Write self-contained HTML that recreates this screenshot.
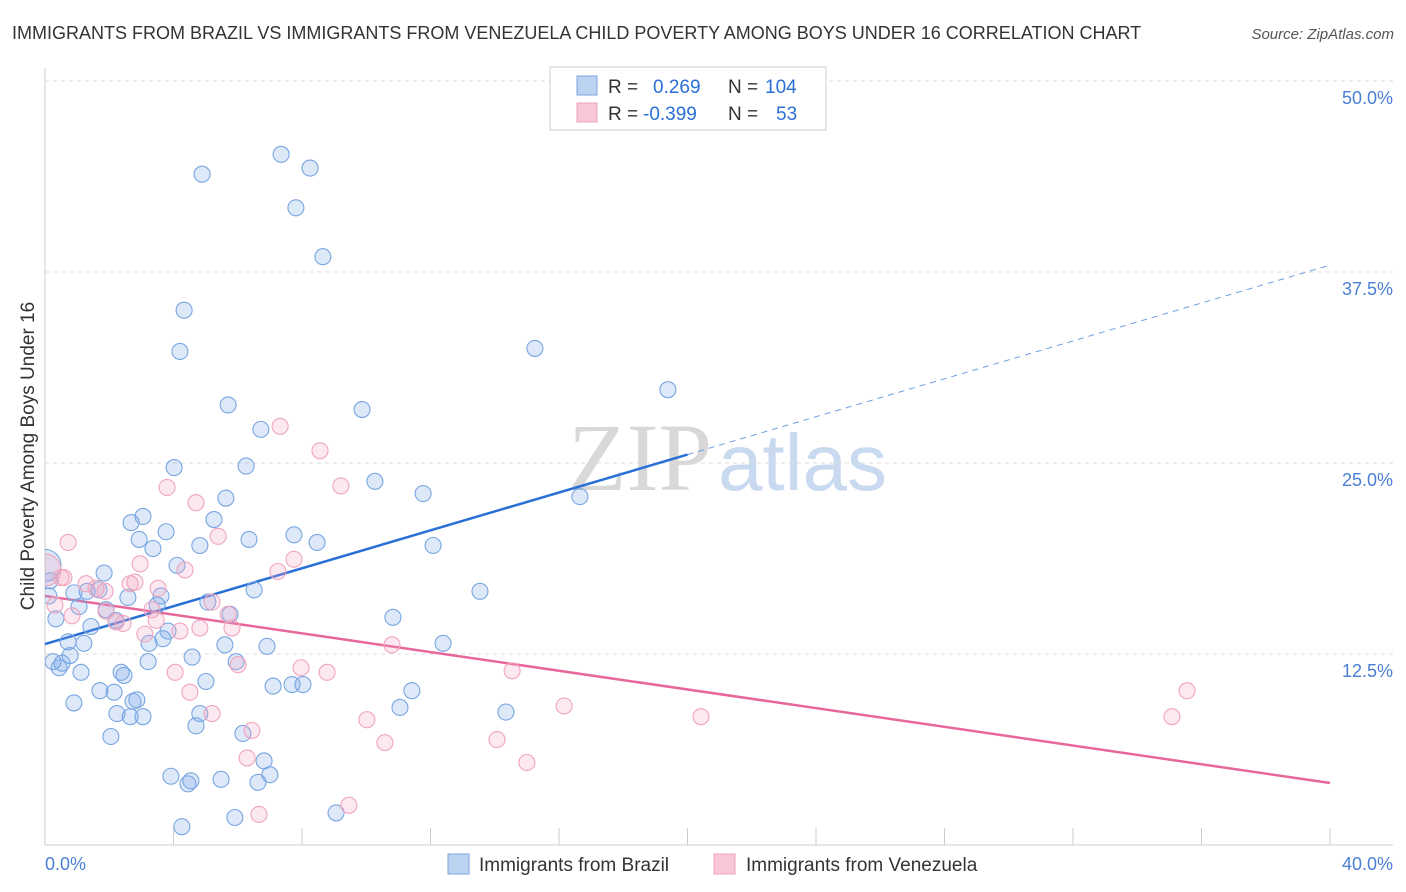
<!DOCTYPE html>
<html><head><meta charset="utf-8">
<style>
body{margin:0;background:#fff;font-family:"Liberation Sans",sans-serif;}
#wrap{position:relative;width:1406px;height:892px;overflow:hidden;}
</style></head>
<body>
<div id="wrap">
<svg id="svg" width="1406" height="892" xmlns="http://www.w3.org/2000/svg">
<defs><clipPath id="plotclip"><rect x="45" y="60" width="1360" height="785"/></clipPath></defs>
<text x="12" y="39" font-size="18" fill="#333">IMMIGRANTS FROM BRAZIL VS IMMIGRANTS FROM VENEZUELA CHILD POVERTY AMONG BOYS UNDER 16 CORRELATION CHART</text>
<text x="1394" y="39" font-size="15" fill="#555" font-style="italic" text-anchor="end">Source: ZipAtlas.com</text>
<text x="712" y="490" font-size="96" fill="#d8d8d8" text-anchor="end" font-family="Liberation Serif">ZIP</text>
<text x="718" y="490" font-size="80" fill="#c8d9f0">atlas</text>
<text transform="translate(34,456) rotate(-90)" font-size="19" fill="#333" text-anchor="middle">Child Poverty Among Boys Under 16</text>
<g id="grid"></g><g id="axes"></g><g id="lines"></g><g id="pts" clip-path="url(#plotclip)"></g>
<g>
<rect x="550" y="67" width="276" height="63" fill="#fff" stroke="#ccc"/>
<rect x="577" y="76" width="20" height="19" fill="#bcd3f2" stroke="#7aa6e0"/>
<rect x="577" y="103" width="20" height="19" fill="#f8c6d6" stroke="#eea1ba"/>
<text x="608" y="93" font-size="19" fill="#333">R = </text><text x="653" y="93" font-size="19" fill="#2a6fd6">0.269</text>
<text x="728" y="93" font-size="19" fill="#333">N = </text><text x="765" y="93" font-size="19" fill="#2a6fd6">104</text>
<text x="608" y="120" font-size="19" fill="#333">R = </text><text x="643" y="120" font-size="19" fill="#2a6fd6">-0.399</text>
<text x="728" y="120" font-size="19" fill="#333">N = </text><text x="776" y="120" font-size="19" fill="#2a6fd6">53</text>
</g>
<g>
<rect x="448" y="854" width="21" height="20" fill="#bcd3f2" stroke="#7aa6e0"/>
<text x="479" y="871" font-size="19" fill="#333">Immigrants from Brazil</text>
<rect x="714" y="854" width="21" height="20" fill="#f8c6d6" stroke="#eea1ba"/>
<text x="746" y="871" font-size="19" fill="#333">Immigrants from Venezuela</text>
</g>
</svg>
</div>
<script>
const yTicks=[12.5,25,37.5,50];
const yTickLabels=["12.5%","25.0%","37.5%","50.0%"];
const xTickVals=[0,4,8,12,16,20,24,28,32,36,40];
const xEndLabels=["0.0%","40.0%"];
const brazilX=[7.35,8.25,4.89,7.81,8.65,4.33,4.20,15.25,19.39,5.70,9.87,6.72,4.02,6.26,10.27,5.63,11.77,16.65,3.05,2.68,5.26,3.77,2.93,3.36,4.82,6.35,7.75,8.47,12.08,4.11,1.84,13.54,6.51,3.61,3.49,5.07,5.76,2.58,1.31,1.68,0.90,0.12,1.06,1.90,2.21,10.83,0.34,1.43,0.72,1.21,3.83,3.67,3.24,5.60,6.91,12.39,0.25,0.53,0.78,0.44,4.58,3.21,5.95,2.37,2.46,1.12,5.01,7.10,7.69,8.03,11.42,1.71,2.15,2.86,2.74,0.90,2.24,3.05,2.65,4.82,11.05,14.35,2.05,4.70,6.16,6.82,3.92,4.54,4.45,5.48,6.63,7.00,4.26,5.91,9.06,0,0.16];
const brazilY=[45.2,44.3,43.9,41.7,38.5,35.0,32.3,32.5,29.8,28.8,28.5,27.2,24.7,24.8,23.8,22.7,23.0,22.8,21.5,21.1,21.3,20.5,20.0,19.4,19.6,20.0,20.3,19.8,19.6,18.3,17.8,16.6,16.7,16.3,15.7,15.9,15.1,16.2,16.6,16.7,16.5,16.3,15.6,15.4,14.7,14.9,14.8,14.3,13.3,13.2,14.0,13.5,13.2,13.1,13.0,13.2,12.0,11.9,12.4,11.6,12.3,12.0,12.0,11.3,11.1,11.3,10.7,10.4,10.5,10.5,10.1,10.1,10.0,9.5,9.4,9.3,8.6,8.4,8.4,8.6,9.0,8.7,7.1,7.8,7.3,5.5,4.5,4.2,4.0,4.3,4.1,4.6,1.2,1.8,2.1,18.3,17.3];
const venX=[0.72,0.50,0,0.31,0.84,1.28,1.59,1.87,2.65,2.80,2.96,3.52,3.80,4.70,5.39,7.32,8.56,9.21,7.75,7.25,4.36,5.20,5.70,1.90,2.21,2.43,3.33,3.11,4.20,4.82,5.82,3.46,10.80,7.97,8.78,6.01,4.05,4.51,5.20,6.44,6.29,6.66,9.46,10.02,10.58,14.07,14.54,15.00,16.16,20.42,35.55,35.08,0.59];
const venY=[19.8,17.5,18.0,15.7,15.0,17.1,16.8,16.6,17.1,17.2,18.4,16.8,23.4,22.4,20.2,27.4,25.8,23.5,18.7,17.9,18.0,15.9,15.1,15.3,14.6,14.5,15.4,13.8,14.0,14.2,14.2,14.7,13.1,11.6,11.3,11.8,11.3,10.0,8.6,7.5,5.7,2.0,2.6,8.2,6.7,6.9,11.4,5.4,9.1,8.4,10.1,8.4,17.5];
const brazilFit=[13.15,0.62];
const venFit=[16.3,-0.306];
const NS="http://www.w3.org/2000/svg";
const X0=45,X1=1330,Y0=845,Y50=81;
const sx=v=>X0+(X1-X0)*v/40;
const sy=v=>Y0-(Y0-Y50)*v/50;
function mk(tag,attrs,parent){const e=document.createElementNS(NS,tag);for(const k in attrs)e.setAttribute(k,attrs[k]);parent.appendChild(e);return e;}
const grid=document.getElementById('grid'),axes=document.getElementById('axes'),lines=document.getElementById('lines'),pts=document.getElementById('pts');
yTicks.forEach((t,i)=>{
 const l=mk('line',{x1:X0,x2:1393,y1:sy(t),y2:sy(t),stroke:'#ddd','stroke-dasharray':'4,4'},grid);
 
 
 const tx=mk('text',{x:1393,y:sy(t)+23,'font-size':18,fill:'#4a7fd6','text-anchor':'end'},axes);
 tx.textContent=yTickLabels[i];
 
 
});
let a=mk('line',{x1:X0,x2:X0,y1:68,y2:Y0,stroke:'#ccc'},axes);


a=mk('line',{x1:X0,x2:1393,y1:Y0,y2:Y0,stroke:'#ccc'},axes);


xTickVals.forEach(v=>{
 const t=mk('line',{x1:sx(v),x2:sx(v),y1:828,y2:Y0,stroke:'#ccc'},axes);
 
 
});
let t0=mk('text',{x:45,y:870,'font-size':18,fill:'#4a7fd6'},axes);t0.textContent=xEndLabels[0];


let t1=mk('text',{x:1393,y:870,'font-size':18,fill:'#4a7fd6','text-anchor':'end'},axes);t1.textContent=xEndLabels[1];


function dots(xs,ys,fill,stroke,name){xs.forEach((x,i)=>{
 const big=(x===0);
 const c=mk('circle',{cx:sx(x),cy:sy(ys[i]),r:big?16:8,fill:fill,stroke:stroke,'stroke-width':1.1},pts);
 
 
});}
dots(brazilX,brazilY,'rgba(120,165,230,0.25)','#78a6e2','point-brazil');
dots(venX,venY,'rgba(245,165,195,0.25)','#f0a5bd','point-venezuela');
const fy=(f,x)=>f[0]+f[1]*x;
let L=mk('line',{x1:sx(0),y1:sy(fy(brazilFit,0)),x2:sx(20),y2:sy(fy(brazilFit,20)),stroke:'#2a6fd6','stroke-width':2.5},lines);


L=mk('line',{x1:sx(20),y1:sy(fy(brazilFit,20)),x2:sx(40),y2:sy(fy(brazilFit,40)),stroke:'#6e9fdf','stroke-width':1,'stroke-dasharray':'6,5'},lines);


L=mk('line',{x1:sx(0),y1:sy(fy(venFit,0)),x2:sx(40),y2:sy(fy(venFit,40)),stroke:'#e8679a','stroke-width':2.5},lines);


</script>
</body></html>
